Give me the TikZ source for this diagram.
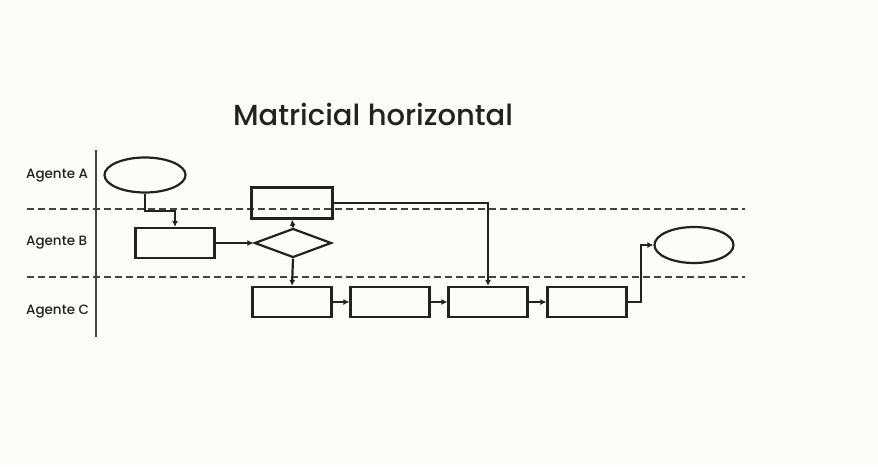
\documentclass[tikz,border=0pt]{standalone}
\usepackage{fontspec}
\setmainfont{Poppins}
\newfontfamily\titlefont{Poppins}[UprightFont=* Medium]
\usetikzlibrary{shapes.geometric,arrows.meta}
\definecolor{ink}{HTML}{222222}
\definecolor{bg}{HTML}{FCFCFA}
\begin{document}
\begin{tikzpicture}[x=1pt,y=-1pt,
  line width=2.2pt, draw=ink,
  box/.style={draw=ink,rectangle,minimum width=79pt,minimum height=30pt,inner sep=0pt,line width=2.2pt},
  oval/.style={draw=ink,ellipse,minimum width=81pt,minimum height=35pt,inner sep=0pt,line width=2.2pt},
  decide/.style={draw=ink,diamond,minimum width=77pt,minimum height=29pt,inner sep=0pt,aspect=2.6,line width=2.2pt},
  lane/.style={draw=ink!85,line width=2.4pt,dash pattern=on 7pt off 4pt},
  flow/.style={draw=ink,line width=2.2pt,-{Latex[length=6pt,width=6pt]}},
  lbl/.style={font=\titlefont\fontsize{13.5}{15}\selectfont,anchor=west,text=ink,inner sep=0pt}]
\fill[bg] (0,0) rectangle (878,466);
\useasboundingbox (0,0) rectangle (878,466);
\node[font=\titlefont\fontsize{29}{33}\selectfont,text=ink] (title) at (373,114) {Matricial horizontal};
\coordinate (vt) at (96,150); \coordinate (vb) at (96,337);
\draw[ink!85,line width=2.4pt] (vt) -- (vb);
\coordinate (d1l) at (27,209); \coordinate (d1r) at (745,209);
\coordinate (d2l) at (27,277); \coordinate (d2r) at (745,277);
\draw[lane] (d1l) -- (d1r);
\draw[lane] (d2l) -- (d2r);
\node[lbl] (la) at (25,176) {Agente A};
\node[lbl] (lb) at (25,243) {Agente B};
\node[lbl] (lc) at (25,312) {Agente C};
\node[oval] (start) at (145,175) {};
\node[box] (b1) at (175,243) {};
\node[box,minimum width=81pt,minimum height=31pt] (a2) at (292,203) {};
\node[decide] (dec) at (293,243) {};
\node[box] (c1) at (292,302) {};
\node[box] (c2) at (390,302) {};
\node[box] (c3) at (488,302) {};
\node[box] (c4) at (587,302) {};
\node[oval,minimum width=79pt,minimum height=36pt] (end) at (694,245) {};
\draw[flow] (start.south) -- ++(0,17) -| (b1.north);
\draw[flow] (b1.east) -- (dec.west);
\draw[flow] (dec.north) -- (a2.south);
\draw[flow] (dec.south) -- (c1.north);
\draw[flow] (a2.east) -| (c3.north);
\draw[flow] (c1.east) -- (c2.west);
\draw[flow] (c2.east) -- (c3.west);
\draw[flow] (c3.east) -- (c4.west);
\draw[flow] (c4.east) -- ++(13,0) |- (end.west);
\end{tikzpicture}
\end{document}
